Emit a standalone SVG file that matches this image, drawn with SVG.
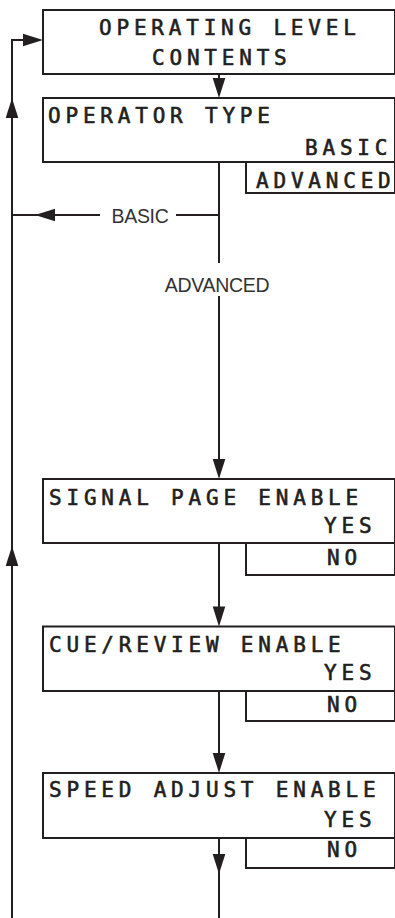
<svg xmlns="http://www.w3.org/2000/svg" xmlns:xlink="http://www.w3.org/1999/xlink" width="395" height="918" viewBox="0 0 395 918">
  <defs>
    <style>
      .box { fill: #ffffff; stroke: #231f20; stroke-width: 2; }
      .ln { fill: none; stroke: #231f20; stroke-width: 2; }
      .ah { fill: #231f20; }
      .lcd { font-family: "DejaVu Sans Mono", "Liberation Mono", monospace; font-size: 21px; font-weight: normal; letter-spacing: 4.8px; fill: #231f20; stroke: #231f20; stroke-width: 0.6px; }
      .lbl { font-family: "Liberation Sans", Arial, sans-serif; font-size: 19.5px; fill: #333333; letter-spacing: -0.3px; }
    </style>
    <path id="ahd" d="M0,0 L-6.3,-20 L6.3,-20 Z"/>
  </defs>

  <g id="connectors">
    <!-- return loop on the left -->
    <path class="ln" d="M12,918 L12,40 L30,40"/>
    <use href="#ahd" class="ah" transform="translate(43,40) rotate(-90)"/>
    <use href="#ahd" class="ah" transform="translate(12,98) rotate(180)"/>
    <use href="#ahd" class="ah" transform="translate(12,546) rotate(180)"/>
    <!-- box1 -> box2 -->
    <path class="ln" d="M219,74 L219,86"/>
    <use href="#ahd" class="ah" transform="translate(219,98)"/>
    <!-- BASIC branch -->
    <path class="ln" d="M219,162 L219,263"/>
    <path class="ln" d="M219,215 L176,215"/>
    <path class="ln" d="M100,215 L12,215"/>
    <use href="#ahd" class="ah" transform="translate(35,215) rotate(90)"/>
    <text class="lbl" x="140" y="223" text-anchor="middle">BASIC</text>
    <!-- ADVANCED branch -->
    <text class="lbl" x="217" y="291.5" text-anchor="middle">ADVANCED</text>
    <path class="ln" d="M219,296 L219,468"/>
    <use href="#ahd" class="ah" transform="translate(219,479)"/>
    <!-- box3 -> box4 -->
    <path class="ln" d="M219,543 L219,614"/>
    <use href="#ahd" class="ah" transform="translate(219,626.5)"/>
    <!-- box4 -> box5 -->
    <path class="ln" d="M219,691 L219,762"/>
    <use href="#ahd" class="ah" transform="translate(219,773)"/>
    <!-- box5 -> onward -->
    <path class="ln" d="M219,838 L219,918"/>
    <use href="#ahd" class="ah" transform="translate(219,874)"/>
  </g>

  <g id="operating-level-contents">
    <rect class="box" x="43" y="10" width="352" height="64"/>
    <text class="lcd" x="99" y="35">OPERATING LEVEL</text>
    <text class="lcd" x="152" y="65">CONTENTS</text>
  </g>

  <g id="operator-type">
    <rect class="box" x="246" y="162" width="149" height="31"/>
    <rect class="box" x="43" y="98" width="352" height="64"/>
    <text class="lcd" x="48" y="123">OPERATOR TYPE</text>
    <text class="lcd" x="305" y="155">BASIC</text>
    <text class="lcd" x="256" y="188">ADVANCED</text>
  </g>

  <g id="signal-page-enable">
    <rect class="box" x="246" y="543" width="149" height="32"/>
    <rect class="box" x="43" y="479" width="352" height="64"/>
    <text class="lcd" x="49" y="505">SIGNAL PAGE ENABLE</text>
    <text class="lcd" x="324" y="533">YES</text>
    <text class="lcd" x="327" y="565">NO</text>
  </g>

  <g id="cue-review-enable">
    <rect class="box" x="246" y="691" width="149" height="30"/>
    <rect class="box" x="43" y="626.5" width="352" height="64.5"/>
    <text class="lcd" x="49" y="652">CUE/REVIEW ENABLE</text>
    <text class="lcd" x="324" y="680">YES</text>
    <text class="lcd" x="327" y="712">NO</text>
  </g>

  <g id="speed-adjust-enable">
    <rect class="box" x="246" y="838" width="149" height="30"/>
    <rect class="box" x="43" y="773" width="352" height="65"/>
    <text class="lcd" x="49" y="797">SPEED ADJUST ENABLE</text>
    <text class="lcd" x="324" y="827">YES</text>
    <text class="lcd" x="327" y="857">NO</text>
  </g>
</svg>
